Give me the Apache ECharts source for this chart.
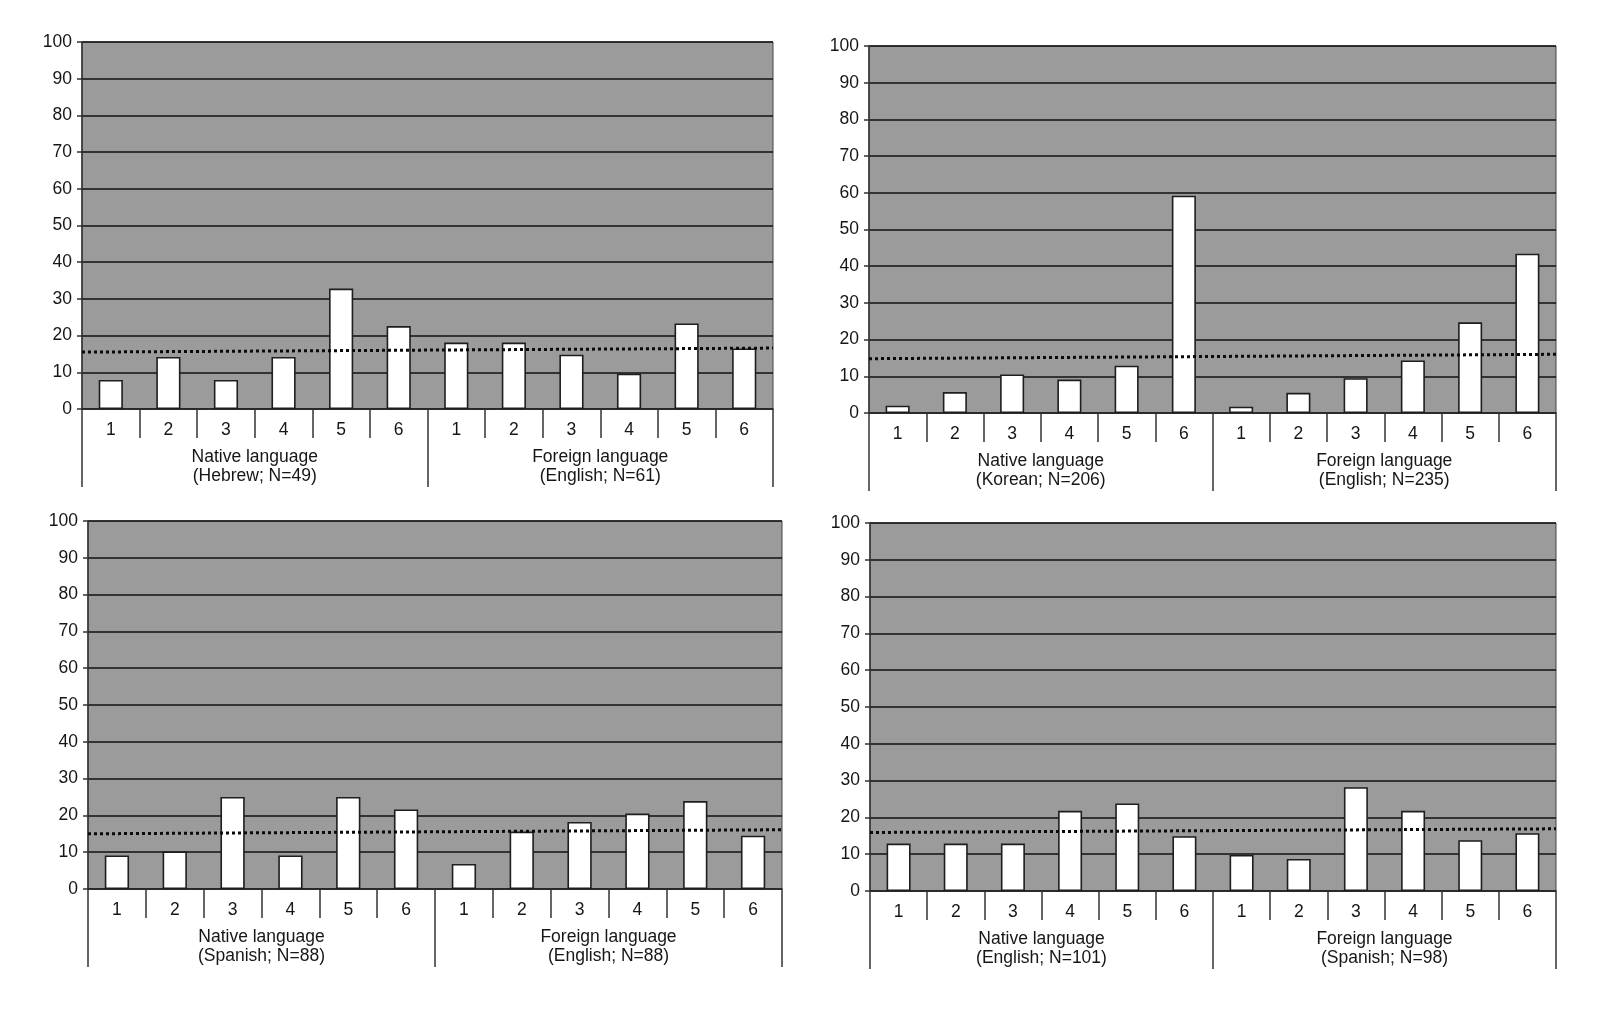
<!DOCTYPE html>
<html>
<head>
<meta charset="utf-8">
<script src="https://cdn.jsdelivr.net/npm/echarts@6/dist/echarts.min.js"></script>
<style>
  body { margin: 0; background: #fff; }
</style>
</head>
<body>
<div id="main" style="width:1600px;height:1010px;"></div>
<script>
// response categories, shown twice per panel (native, then foreign)
var responses = ['1', '2', '3', '4', '5', '6'];

// percentages
var hebrewNative = [7.9, 14.2, 7.9, 14.2, 32.8, 22.6];
var hebrewForeign = [18.1, 18.1, 14.8, 9.6, 23.3, 16.5];
var koreanNative = [2.0, 5.7, 10.5, 9.1, 12.9, 59.2];
var koreanForeign = [1.7, 5.5, 9.5, 14.3, 24.7, 43.4];
var spanishNative = [9.1, 10.2, 25.0, 9.1, 25.0, 21.6];
var spanishForeign = [6.8, 15.6, 18.2, 20.5, 23.9, 14.5];
var englishNative = [12.9, 12.9, 12.9, 21.8, 23.8, 14.9];
var englishForeign = [9.8, 8.7, 28.2, 21.8, 13.8, 15.7];

// dotted reference line: value at left edge, value at right edge
var refHebrew = [15.5, 16.6];
var refKorean = [14.8, 16.0];
var refSpanish = [15.0, 16.1];
var refEnglish = [15.9, 16.9];

var groupsHebrew = ['Native language\n(Hebrew; N=49)', 'Foreign language\n(English; N=61)'];
var groupsKorean = ['Native language\n(Korean; N=206)', 'Foreign language\n(English; N=235)'];
var groupsSpanish = ['Native language\n(Spanish; N=88)', 'Foreign language\n(English; N=88)'];
var groupsEnglish = ['Native language\n(English; N=101)', 'Foreign language\n(Spanish; N=98)'];

var yTicks = [0, 10, 20, 30, 40, 50, 60, 70, 80, 90, 100];

var font = 'Liberation Sans, Arial, sans-serif';
var ink = '#161616';
var fs = 17.5;

var myChart = echarts.init(document.getElementById('main'));

var option = {
  backgroundColor: '#fff',
  animation: false,
  grid: [],
  xAxis: [],
  yAxis: [],
  series: []
};

function addPanel(idx, box, nativeVals, foreignVals, groups, ref) {
  option.grid.push({
    left: box.left, right: box.right, top: box.top, height: box.height,
    show: true,
    backgroundColor: '#9b9b9b',
    borderColor: '#444',
    borderWidth: 1
  });
  var cats = responses.concat(responses);
  // response numbers with short separators
  option.xAxis.push({
    type: 'category',
    gridIndex: idx,
    data: cats,
    axisLine: { show: true, lineStyle: { color: '#2a2a2a', width: 1.5 } },
    axisTick: { show: true, interval: 0, length: 29, lineStyle: { color: '#333', width: 1.5 } },
    axisLabel: { interval: 0, margin: 12, fontSize: fs, color: ink, fontFamily: font },
    splitLine: { show: false }
  });
  // group labels with long separators
  option.xAxis.push({
    type: 'category',
    gridIndex: idx,
    position: 'bottom',
    data: groups,
    axisLine: { show: false },
    axisTick: { show: true, interval: 0, length: 78, lineStyle: { color: '#333', width: 1.5 } },
    axisLabel: { interval: 0, margin: 39, fontSize: fs, lineHeight: 19, color: ink, fontFamily: font },
    splitLine: { show: false }
  });
  // hidden 0..1 axis for the dotted reference line
  option.xAxis.push({
    type: 'value',
    gridIndex: idx,
    min: 0,
    max: 1,
    show: false
  });
  option.yAxis.push({
    type: 'value',
    gridIndex: idx,
    min: yTicks[0],
    max: yTicks[yTicks.length - 1],
    interval: 10,
    axisLine: { show: true, lineStyle: { color: '#333', width: 1.5 } },
    axisTick: { show: true, length: 5, lineStyle: { color: '#333', width: 1.5 } },
    axisLabel: { margin: 10, fontSize: fs, color: ink, fontFamily: font },
    splitLine: { show: true, lineStyle: { color: '#111', width: 1.6 } }
  });
  option.series.push({
    type: 'bar',
    xAxisIndex: idx * 3,
    yAxisIndex: idx,
    barWidth: '42%',
    itemStyle: { color: '#fff', borderColor: '#1e1e1e', borderWidth: 1.6 },
    data: nativeVals.concat(foreignVals),
    z: 2
  });
  option.series.push({
    type: 'line',
    xAxisIndex: idx * 3 + 2,
    yAxisIndex: idx,
    symbol: 'none',
    lineStyle: { color: '#0a0a0a', width: 3, type: [3, 3] },
    data: [[0, ref[0]], [1, ref[1]]],
    z: 5
  });
}

addPanel(0, { left: 82, right: 827, top: 42, height: 367 }, hebrewNative, hebrewForeign, groupsHebrew, refHebrew);
addPanel(1, { left: 869, right: 44, top: 46, height: 367 }, koreanNative, koreanForeign, groupsKorean, refKorean);
addPanel(2, { left: 88, right: 818, top: 521, height: 368 }, spanishNative, spanishForeign, groupsSpanish, refSpanish);
addPanel(3, { left: 870, right: 44, top: 523, height: 368 }, englishNative, englishForeign, groupsEnglish, refEnglish);

myChart.setOption(option);
</script>
</body>
</html>
